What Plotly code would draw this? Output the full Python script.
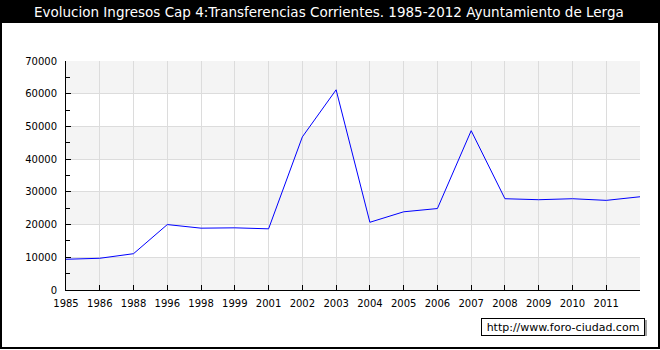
import plotly.graph_objects as go

years = ["1985", "1986", "1988", "1996", "1998", "1999", "2001", "2002", "2003",
         "2004", "2005", "2006", "2007", "2008", "2009", "2010", "2011", "2012"]
values = [9400, 9700, 11100, 20000, 18900, 19000, 18700, 46800, 61200,
          20700, 23900, 24900, 48700, 27900, 27600, 27900, 27400, 28500]
tick_labels = years[:-1] + [""]
y_ticks = [0, 10000, 20000, 30000, 40000, 50000, 60000, 70000]
title_text = "Evolucion Ingresos Cap 4:Transferencias Corrientes. 1985-2012 Ayuntamiento de Lerga"
watermark = "http://www.foro-ciudad.com"

W, H = 660, 350
ML, MR, MT, MB = 66, 20, 61, 60
pw, ph = W - ML - MR, H - MT - MB

def px_x(px):
    return (px - ML) / pw

def px_y(py):
    return (H - MB - py) / ph

fig = go.Figure()

# alternating bands
shapes = []
for i in range(len(y_ticks) - 1):
    if i % 2 == 0:
        shapes.append(dict(type="rect", xref="paper", yref="y", x0=0, x1=1,
                           y0=y_ticks[i], y1=y_ticks[i + 1],
                           fillcolor="#f4f4f4", line_width=0, layer="below"))

# title bar
shapes.append(dict(type="rect", xref="paper", yref="paper",
                   x0=px_x(0), x1=px_x(W), y0=px_y(23), y1=px_y(0),
                   fillcolor="black", line_width=0, layer="above"))
# outer border
shapes.append(dict(type="rect", xref="paper", yref="paper",
                   x0=px_x(1), x1=px_x(W - 1), y0=px_y(H - 2), y1=px_y(0),
                   fillcolor="rgba(0,0,0,0)", line=dict(color="black", width=2)))
# watermark shadow
shapes.append(dict(type="rect", xref="paper", yref="paper",
                   x0=px_x(484), x1=px_x(647), y0=px_y(336), y1=px_y(320),
                   fillcolor="#a0a0a0", line_width=0, layer="above"))

fig.add_trace(go.Scatter(x=years, y=values, mode="lines",
                         line=dict(color="#0000ff", width=1), hoverinfo="x+y"))

fig.update_layout(
    width=W, height=H,
    margin=dict(l=ML, r=MR, t=MT, b=MB),
    paper_bgcolor="white", plot_bgcolor="white",
    showlegend=False,
    shapes=shapes,
    font=dict(family="DejaVu Sans", size=10, color="black"),
    annotations=[
        dict(text=title_text, xref="paper", yref="paper",
             x=px_x(W / 2 - 1), y=px_y(12), xanchor="center", yanchor="middle",
             showarrow=False, font=dict(color="white", size=13.5, family="DejaVu Sans")),
        dict(text=watermark, xref="paper", yref="paper",
             x=px_x(645), y=px_y(318), xanchor="right", yanchor="top",
             showarrow=False, bgcolor="white", bordercolor="black", borderwidth=1,
             borderpad=2, width=158, height=12,
             font=dict(size=11, family="DejaVu Sans", color="black")),
    ],
    xaxis=dict(type="category", range=[0, len(years) - 1],
               tickmode="array", tickvals=years, ticktext=tick_labels,
               showgrid=True, gridcolor="#dcdcdc", gridwidth=1,
               ticks="inside", ticklen=5, tickcolor="black",
               ticklabelstandoff=4,
               showline=True, linecolor="black", linewidth=1,
               zeroline=False, fixedrange=True),
    yaxis=dict(range=[0, 70000], tickmode="array", tickvals=y_ticks,
               ticktext=[str(v) for v in y_ticks],
               showgrid=True, gridcolor="#dcdcdc", gridwidth=1,
               ticks="inside", ticklen=5, tickcolor="black",
               ticklabelstandoff=6,
               minor=dict(dtick=5000, ticks="inside", ticklen=4, tickcolor="black", showgrid=False),
               showline=True, linecolor="black", linewidth=1,
               zeroline=False, fixedrange=True),
)

fig.write_html("out.html", config={"displayModeBar": False},
               post_script="document.body.style.margin='0px';")
